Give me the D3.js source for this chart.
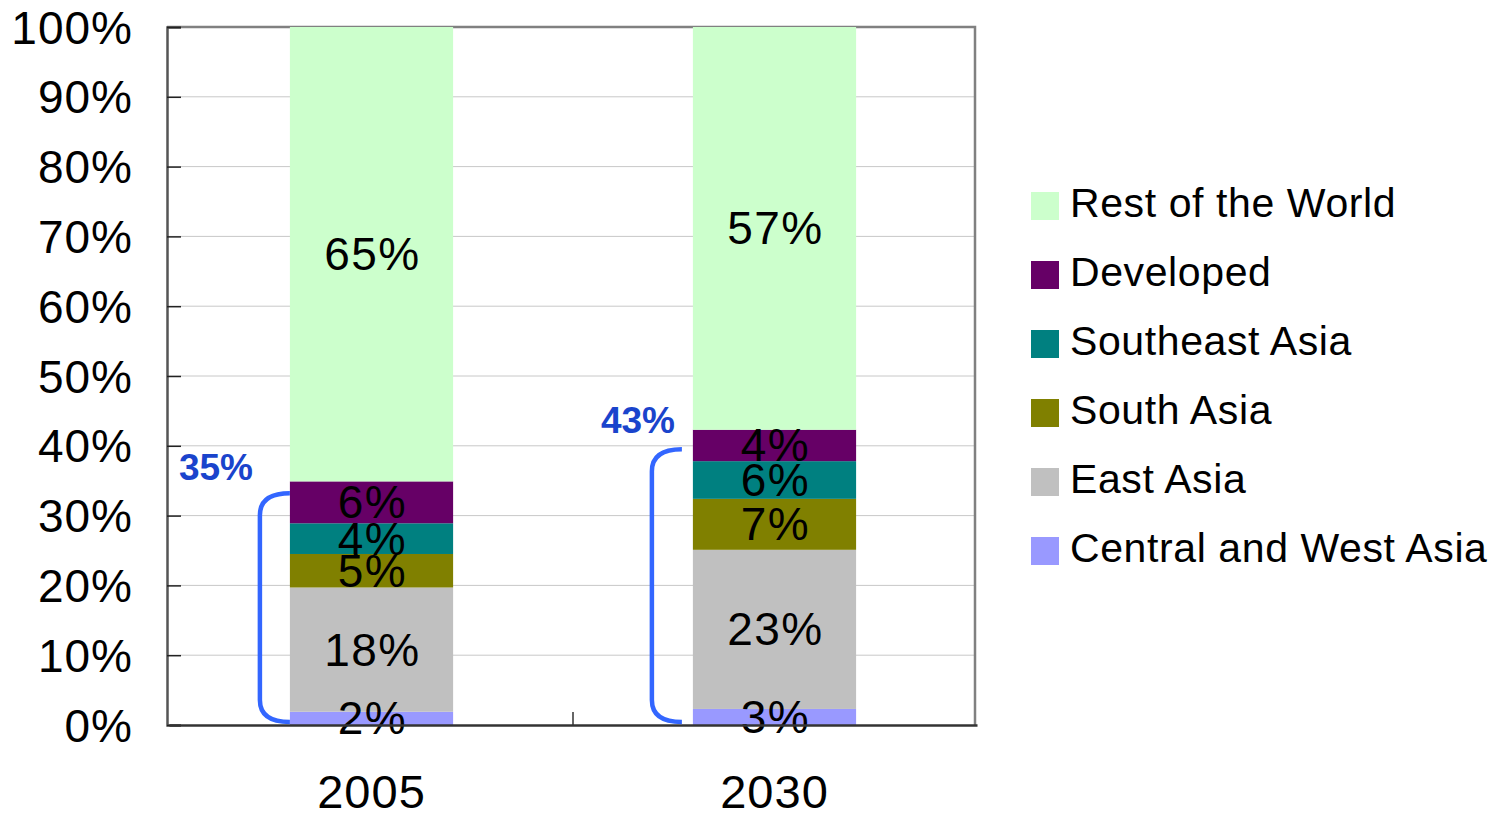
<!DOCTYPE html>
<html>
<head>
<meta charset="utf-8">
<script src="https://cdn.jsdelivr.net/npm/d3@7"></script>
<style>
  body { margin: 0; background: #fff; }
  text { font-family: "Liberation Sans", Arial, sans-serif; }
</style>
</head>
<body>
<div id="chart"></div>
<script>

// Categories and regions (stacked bottom -> top)
var years = ["2005", "2030"];
var regions = ["Central and West Asia", "East Asia", "South Asia", "Southeast Asia", "Developed", "Rest of the World"];
var colors = ["#9999ff", "#c0c0c0", "#808000", "#008080", "#660066", "#ccffcc"];

// Share of each region per year (%)
var share2005 = [1.9, 17.8, 4.8, 4.4, 6.0, 65.1];
var share2030 = [2.3, 22.8, 7.3, 5.4, 4.5, 57.7];
var labels2005 = ["2%", "18%", "5%", "4%", "6%", "65%"];
var labels2030 = ["3%", "23%", "7%", "6%", "4%", "57%"];

// Asia total annotations
var asiaTotal = ["35%", "43%"];
var bracketTop = [33.2, 39.5];

var yTicks = [0, 10, 20, 30, 40, 50, 60, 70, 80, 90, 100];

var width = 1498, height = 813;
var plotLeft = 167, plotRight = 975, plotTop = 27, plotBottom = 725;

var svg = d3.select("#chart")
  .append("svg")
  .attr("width", width)
  .attr("height", height);

var x = d3.scaleBand()
  .domain(years)
  .range([plotLeft + 2, plotRight + 2])
  .paddingInner(0.595)
  .paddingOuter(0.3);

var y = d3.scaleLinear()
  .domain([0, 100])
  .range([plotBottom, plotTop]);

// gridlines
svg.append("g")
  .selectAll("line")
  .data(yTicks.slice(1, -1))
  .enter()
  .append("line")
  .attr("x1", plotLeft)
  .attr("x2", plotRight)
  .attr("y1", function(d) { return y(d); })
  .attr("y2", function(d) { return y(d); })
  .attr("stroke", "#c8c8c8")
  .attr("stroke-width", 1);

// frame (top + right)
svg.append("path")
  .attr("d", "M" + plotLeft + "," + plotTop + "H" + plotRight + "V" + plotBottom)
  .attr("fill", "none")
  .attr("stroke", "#808080")
  .attr("stroke-width", 2.5);

// stacked data
var rows = years.map(function(yr, i) {
  var vals = i === 0 ? share2005 : share2030;
  var labs = i === 0 ? labels2005 : labels2030;
  var acc = 0;
  return vals.map(function(v, j) {
    var seg = { year: yr, region: regions[j], y0: acc, y1: acc + v, label: labs[j], color: colors[j] };
    acc += v;
    return seg;
  });
});
var segs = d3.merge(rows);

svg.append("g")
  .selectAll("rect")
  .data(segs)
  .enter()
  .append("rect")
  .attr("x", function(d) { return x(d.year); })
  .attr("width", x.bandwidth())
  .attr("y", function(d) { return y(d.y1); })
  .attr("height", function(d) { return y(d.y0) - y(d.y1); })
  .attr("fill", function(d) { return d.color; });

svg.append("g")
  .selectAll("text")
  .data(segs)
  .enter()
  .append("text")
  .attr("x", function(d) { return x(d.year) + x.bandwidth() / 2 + 1; })
  .attr("y", function(d) { return (y(d.y0) + y(d.y1)) / 2 + 16; })
  .attr("text-anchor", "middle")
  .attr("font-size", 46)
  .attr("letter-spacing", 1.5)
  .attr("fill", "#000")
  .text(function(d) { return d.label; });

// y axis
var yAxis = svg.append("g")
  .attr("transform", "translate(" + plotLeft + ",0)")
  .call(d3.axisLeft(y)
    .tickValues(yTicks)
    .tickSize(-14)
    .tickPadding(34)
    .tickFormat(function(d) { return d + "%"; }));
yAxis.select(".domain").attr("stroke", "#555").attr("stroke-width", 2.5);
yAxis.selectAll(".tick line").attr("stroke", "#222").attr("stroke-width", 1.5);
yAxis.selectAll(".tick text")
  .attr("font-size", 46)
  .attr("letter-spacing", 1)
  .attr("font-family", "Liberation Sans, Arial, sans-serif")
  .attr("fill", "#000")
  .attr("dy", "0.35em");

// x axis
var xAxis = svg.append("g")
  .attr("transform", "translate(0," + plotBottom + ")")
  .call(d3.axisBottom(x).tickSize(0).tickPadding(50));
xAxis.select(".domain").attr("stroke", "#333").attr("stroke-width", 2.5);
xAxis.selectAll(".tick text")
  .attr("font-size", 47)
  .attr("letter-spacing", 1)
  .attr("font-family", "Liberation Sans, Arial, sans-serif")
  .attr("fill", "#000");

// category divider tick
svg.append("line")
  .attr("x1", (plotLeft + plotRight) / 2 + 2)
  .attr("x2", (plotLeft + plotRight) / 2 + 2)
  .attr("y1", plotBottom)
  .attr("y2", plotBottom - 13)
  .attr("stroke", "#333")
  .attr("stroke-width", 1.5);

// Asia brackets + totals
years.forEach(function(yr, i) {
  var xEnd = i === 0 ? x(yr) : x(yr) - 11;
  var xl = xEnd - 30;
  var yt = y(bracketTop[i]);
  var yb = y(0) - 3;
  var r = 22;
  svg.append("path")
    .attr("d", "M" + xEnd + "," + yt +
      "Q" + xl + "," + yt + " " + xl + "," + (yt + r) +
      "V" + (yb - r) +
      "Q" + xl + "," + yb + " " + xEnd + "," + yb)
    .attr("fill", "none")
    .attr("stroke", "#3366ff")
    .attr("stroke-width", 4.5);
  svg.append("text")
    .attr("x", xl + (i === 0 ? -81 : -51))
    .attr("y", i === 0 ? y(35) - 1 : y(43) + 8)
    .attr("font-size", 37)
    .attr("font-weight", "bold")
    .attr("fill", "#1a44cc")
    .text(asiaTotal[i]);
});

// legend
var legend = svg.append("g")
  .selectAll("g")
  .data(regions.slice().reverse())
  .enter()
  .append("g")
  .attr("transform", function(d, i) { return "translate(1031," + (192 + i * 69) + ")"; });

legend.append("rect")
  .attr("width", 28)
  .attr("height", 28)
  .attr("fill", function(d) { return colors[regions.indexOf(d)]; });

legend.append("text")
  .attr("x", 39)
  .attr("y", 25)
  .attr("font-size", 41)
  .attr("letter-spacing", 0.6)
  .attr("fill", "#000")
  .text(function(d) { return d; });

</script>
</body>
</html>
